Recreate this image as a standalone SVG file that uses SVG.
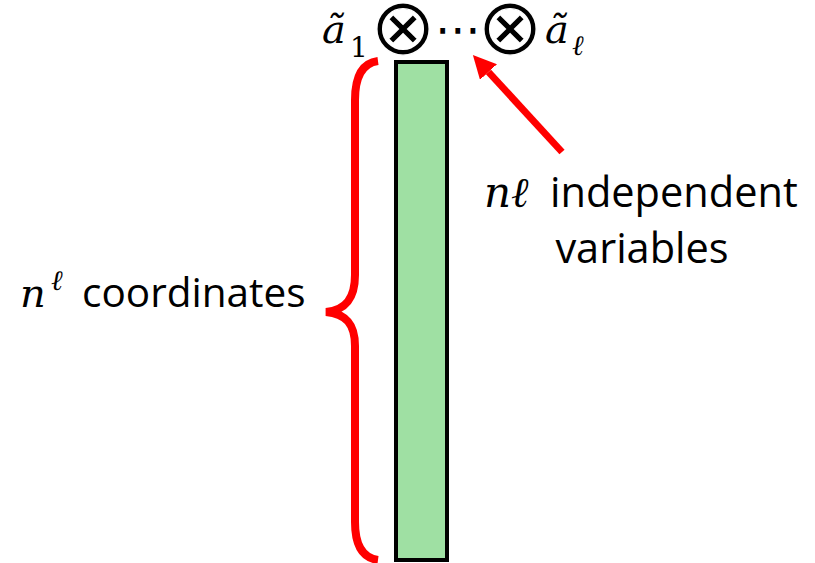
<svg xmlns="http://www.w3.org/2000/svg" width="815" height="563" viewBox="0 0 815 563">
<style>
.m{font-family:"DejaVu Serif","Liberation Serif",serif;font-style:italic;fill:#000}
.r{font-family:"DejaVu Serif","Liberation Serif",serif;fill:#000}
.op{font-family:"DejaVu Sans",sans-serif;fill:#000;stroke:#fff;stroke-width:1.4;letter-spacing:-14px}
.dots{font-family:"DejaVu Sans",sans-serif;fill:#000}
.t{font-family:"Open Sans","Liberation Sans",sans-serif;fill:#000}
.red{fill:none;stroke:#ff0000;stroke-width:8;stroke-linecap:butt}
</style>
<defs>
<marker id="ah" viewBox="0 0 10 10" refX="0" refY="5" markerWidth="3.3" markerHeight="3.3" orient="auto" markerUnits="strokeWidth">
<path d="M0,0 L10,5 L0,10 z" fill="#ff0000"/>
</marker>
</defs>
<g id="formula">
<text class="m" x="322" y="43" font-size="40">ã</text>
<text class="r" x="350" y="57" font-size="28">1</text>
<text class="op" x="396" y="54" font-size="80" text-anchor="middle">⊗</text>
<text class="dots" x="458" y="45" font-size="46" text-anchor="middle">⋯</text>
<text class="op" x="503" y="54" font-size="80" text-anchor="middle">⊗</text>
<text class="m" x="545" y="43" font-size="40">ã</text>
<text class="m" x="572" y="55" font-size="28">ℓ</text>
</g>
<g id="vector">
<rect x="396" y="62" width="51" height="498" fill="#9fe0a3" stroke="#000" stroke-width="4"/>
</g>
<g id="brace">
<path class="red" d="M378,61 C363,63 355,76 355,100 L355,275 C355,298 346,310 326,312 C346,314 355,324 355,346 L355,522 C355,546 363,558 378,560"/>
</g>
<g id="label-coords">
<text class="m" x="20" y="307" font-size="40">n</text>
<text class="m" x="51" y="290" font-size="28">ℓ</text>
<text class="t" x="82" y="307" font-size="40.5">coordinates</text>
</g>
<g id="label-vars">
<text class="m" x="484" y="207" font-size="42">nℓ</text>
<text class="t" x="550" y="207" font-size="41.5">independent</text>
<text class="t" x="642" y="263" font-size="41.5" text-anchor="middle">variables</text>
</g>
<g id="connectors">
<line x1="562" y1="152" x2="488.5" y2="72" stroke="#ff0000" stroke-width="7" marker-end="url(#ah)"/>
</g>
</svg>
